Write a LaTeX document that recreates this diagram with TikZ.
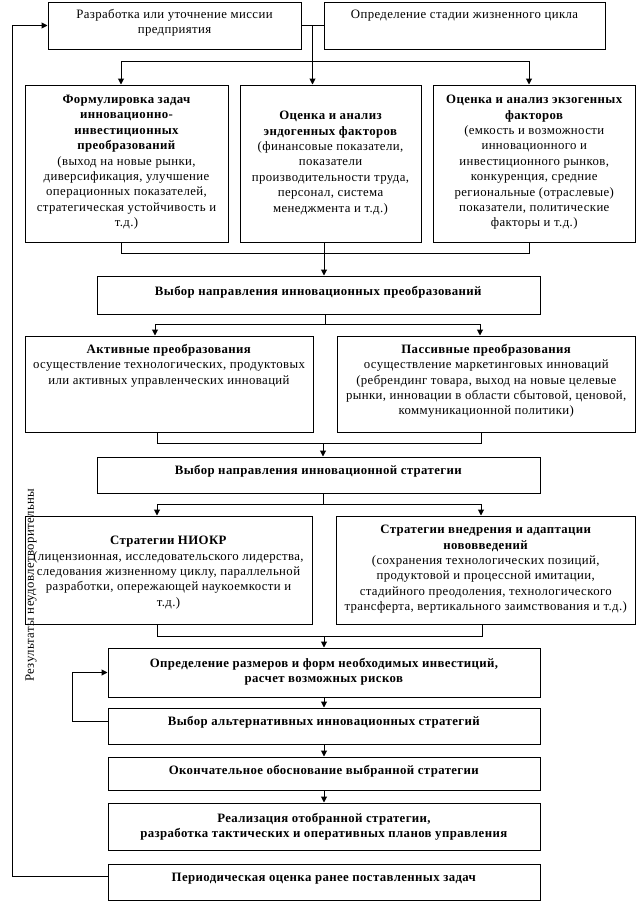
\documentclass[tikz,border=0pt]{standalone}
\usepackage{fontspec}
\setmainfont{Liberation Serif}[LetterSpace=3]
\usetikzlibrary{arrows.meta}
\newcommand{\boxtxt}[4]{\begin{minipage}[c][#2pt][t]{#1pt}\centering\vspace*{#3pt}#4\end{minipage}}
\begin{document}
\begin{tikzpicture}[x=1pt,y=-1pt,
  blk/.style={draw, line width=1pt, inner sep=0pt, font=\fontsize{12.8}{15.4}\selectfont},
  ln/.style={line width=1pt},
  arr/.style={line width=1pt,-{Triangle[width=6pt,length=6pt]}}]
\useasboundingbox (0,0) rectangle (637,913);
% boxes
\node[blk, minimum width=253pt] (A) at (174.5,25.5) {\boxtxt{247}{47}{7.2}{Разработка или уточнение миссии\\предприятия}};
\node[blk, minimum width=281pt] (B) at (464.5,25.5) {\boxtxt{275}{47}{8.0}{Определение стадии жизненного цикла}};
\node[blk, minimum width=203pt] (C) at (126.5,163.5) {\boxtxt{199}{157}{10.2}{\textbf{Формулировка задач\\инновационно-\\инвестиционных\\преобразований}\\(выход на новые рынки,\\диверсификация, улучшение\\операционных показателей,\\стратегическая устойчивость и\\т.д.)}};
\node[blk, minimum width=181pt] (D) at (330.5,163.5) {\boxtxt{177}{157}{26.2}{\textbf{Оценка и анализ\\эндогенных факторов}\\(финансовые показатели,\\показатели\\производительности труда,\\персонал, система\\менеджмента и т.д.)}};
\node[blk, minimum width=202.5pt] (E) at (534.25,163.5) {\boxtxt{198}{157}{10.2}{\textbf{Оценка и анализ экзогенных\\факторов}\\(емкость и возможности\\инновационного и\\инвестиционного рынков,\\конкуренция, средние\\региональные (отраслевые)\\показатели, политические\\факторы и т.д.)}};
\node[blk, minimum width=443pt] (F) at (318.5,295) {\boxtxt{437}{38}{10.2}{\textbf{Выбор направления инновационных преобразований}}};
\node[blk, minimum width=288pt] (G) at (169,384) {\boxtxt{284}{96}{8.2}{\textbf{Активные преобразования}\\осуществление технологических, продуктовых\\или активных управленческих инноваций}};
\node[blk, minimum width=298.5pt] (H) at (486.25,384) {\boxtxt{295}{96}{8.2}{\textbf{Пассивные преобразования}\\осуществление маркетинговых инноваций\\(ребрендинг товара, выход на новые целевые\\рынки, инновации в области сбытовой, ценовой,\\коммуникационной политики)}};
\node[blk, minimum width=443pt] (I) at (318.5,475) {\boxtxt{437}{36}{8.2}{\textbf{Выбор направления инновационной стратегии}}};
\node[blk, minimum width=287pt] (J) at (168.5,570) {\boxtxt{283}{108}{20.2}{\textbf{Стратегии НИОКР}\\(лицензионная, исследовательского лидерства,\\следования жизненному циклу, параллельной\\разработки, опережающей наукоемкости и\\т.д.)}};
\node[blk, minimum width=299.5pt] (K) at (485.75,570) {\boxtxt{296}{108}{9.2}{\textbf{Стратегии внедрения и адаптации\\нововведений}\\(сохранения технологических позиций,\\продуктовой и процессной имитации,\\стадийного преодоления, технологического\\трансферта, вертикального заимствования и т.д.)}};
\node[blk, minimum width=432pt] (L) at (324,672.5) {\boxtxt{426}{49}{10.2}{\textbf{Определение размеров и форм необходимых инвестиций,\\расчет возможных рисков}}};
\node[blk, minimum width=432pt] (M) at (324,726) {\boxtxt{426}{36}{8.2}{\textbf{Выбор альтернативных инновационных стратегий}}};
\node[blk, minimum width=432pt] (N) at (324,773.5) {\boxtxt{426}{33}{8.2}{\textbf{Окончательное обоснование выбранной стратегии}}};
\node[blk, minimum width=432pt] (O) at (324,826.5) {\boxtxt{426}{47}{10.2}{\textbf{Реализация отобранной стратегии,\\разработка тактических и оперативных планов управления}}};
\node[blk, minimum width=432pt] (P) at (324,882) {\boxtxt{426}{36}{9.2}{\textbf{Периодическая оценка ранее поставленных задач}}};
\node[rotate=90, inner sep=0pt, font=\fontsize{12.8}{15.4}\selectfont] (res) at (31,585) {Результаты неудовлетворительны};
% top connectors
\draw[ln] (A.east) -- (B.west);
\coordinate (j1) at (312.5,25.5);
\draw[arr] (j1) -- (j1 |- D.north);
\coordinate (cL) at (121,61);
\coordinate (cR) at (529,61);
\draw[ln] (cL) -- (cR);
\draw[arr] (cL) -- (cL |- C.north);
\draw[arr] (cR) -- (cR |- E.north);
% row 2 -> F
\coordinate (b1) at (121,253);
\coordinate (b2) at (529,253);
\draw[ln] (b1 |- C.south) -- (b1) -- (b2) -- (b2 |- E.south);
\coordinate (dd) at (324,253);
\draw[arr] (dd |- D.south) -- (dd |- F.north);
% F -> G, H
\coordinate (f1) at (325,324);
\coordinate (g1) at (155,324);
\coordinate (h1) at (480,324);
\draw[ln] (f1 |- F.south) -- (f1);
\draw[ln] (g1) -- (h1);
\draw[arr] (g1) -- (g1 |- G.north);
\draw[arr] (h1) -- (h1 |- H.north);
% G, H -> I
\coordinate (g2) at (157,443);
\coordinate (h2) at (481,443);
\coordinate (i1) at (323,443);
\draw[ln] (g2 |- G.south) -- (g2) -- (h2) -- (h2 |- H.south);
\draw[arr] (i1) -- (i1 |- I.north);
% I -> J, K
\coordinate (i2) at (323,504);
\coordinate (j2) at (157,504);
\coordinate (k2) at (481,504);
\draw[ln] (i2 |- I.south) -- (i2);
\draw[ln] (j2) -- (k2);
\draw[arr] (j2) -- (j2 |- J.north);
\draw[arr] (k2) -- (k2 |- K.north);
% J, K -> L
\coordinate (j3) at (157,636);
\coordinate (k3) at (482,636);
\coordinate (l1) at (324,636);
\draw[ln] (j3 |- J.south) -- (j3) -- (k3) -- (k3 |- K.south);
\draw[arr] (l1) -- (l1 |- L.north);
% chain
\draw[arr] (L.south) -- (M.north);
\draw[arr] (M.south) -- (N.north);
\draw[arr] (N.south) -- (O.north);
% feedback loops
\coordinate (fb1) at (72,700);
\draw[arr] ([yshift=5pt]M.west) -- ([yshift=5pt]M.west -| fb1) -- (L.west -| fb1) -- (L.west);
\coordinate (fb2) at (12,500);
\draw[arr] ([yshift=6pt]P.west) -- ([yshift=6pt]P.west -| fb2) -- (A.west -| fb2) -- (A.west);
\end{tikzpicture}
\end{document}
